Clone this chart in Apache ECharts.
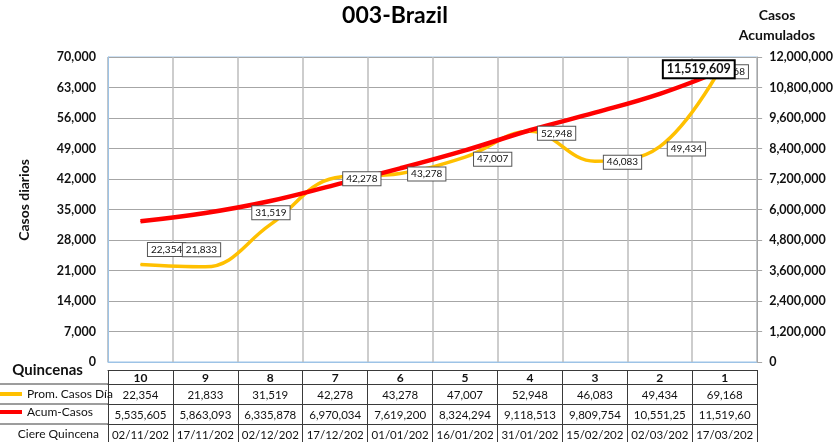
<!DOCTYPE html>
<html>
<head>
<meta charset="utf-8">
<script src="https://cdn.jsdelivr.net/npm/echarts@6/dist/echarts.min.js"></script>
<style>
html,body{margin:0;padding:0;background:#fff;}
#c{width:836px;height:442px;}
</style>
</head>
<body>
<div id="c"></div>
<script>
// ---- data ----
const categories = ['10','9','8','7','6','5','4','3','2','1'];
const promCasos = [22354, 21833, 31519, 42278, 43278, 47007, 52948, 46083, 49434, 69168];
const acumCasos = [5535605, 5863093, 6335878, 6970034, 7619200, 8324294, 9118513, 9809754, 10551250, 11519609];
const cierreQuincena = ['02/11/2020','17/11/2020','02/12/2020','17/12/2020','01/01/2021','16/01/2021','31/01/2021','15/02/2021','02/03/2021','17/03/2021'];
const leftTicks = {min: 0, max: 70000, interval: 7000};
const rightTicks = {min: 0, max: 12000000, interval: 1200000};

// ---- layout / style ----
const FONT = 'Lato, "Noto Sans", sans-serif';
const fmt = v => Number(v).toLocaleString('en-US');
const cut = s => String(s).slice(0, 9);
const G = {left: 108, right: 78, top: 57, bottom: 80};
const plotBottom = 442 - G.bottom;
const headerOff = 8, headerH = 14, rowH = 20;
const tableBorder = '#3a3a3a';

// label offsets for "Prom. Casos Día" (position right)
const promLabelOffsets = [[2,-15],[-28,-17],[-23.5,-12],[2.5,1],[2.5,0.5],[3.5,2],[2.5,2],[3.5,1],[2.5,2.5],[-19.5,11]];

const chart = echarts.init(document.getElementById('c'), null, {renderer: 'canvas'});

function tableAxis(offset, len, labelFn, extra) {
  return Object.assign({
    type: 'category', gridIndex: 0, position: 'bottom', offset: offset,
    data: categories,
    axisLine: {show: true, onZero: false, lineStyle: {color: tableBorder, width: 1}},
    axisTick: {show: true, interval: 0, length: len, lineStyle: {color: tableBorder, width: 1}},
    axisLabel: {show: true, interval: 0, margin: len / 2 + 1, verticalAlign: 'middle',
      fontFamily: FONT, fontSize: 11.5, color: '#111', formatter: labelFn},
    splitLine: {show: false}
  }, extra || {});
}

const yRow1 = plotBottom + headerOff + headerH;
const rowLines = [0,1,2].map(k => ({
  type: 'line', shape: {x1: 0, y1: yRow1 + k * rowH, x2: G.left, y2: yRow1 + k * rowH},
  style: {stroke: tableBorder, lineWidth: 1}
}));

const option = {
  backgroundColor: '#fff',
  animation: false,
  title: [
    {text: '003-Brazil', left: 390, top: -1, textAlign: 'center',
     textStyle: {fontFamily: FONT, fontSize: 23, fontWeight: 'bold', color: '#000'}},
    {text: 'Casos\nAcumulados', left: 772, top: 0, textAlign: 'center',
     textStyle: {fontFamily: FONT, fontSize: 14, fontWeight: 'bold', color: '#111', lineHeight: 20}}
  ],
  legend: {
    orient: 'vertical', left: 0, top: yRow1 + 4, itemGap: 6, padding: 0,
    icon: 'rect', itemWidth: 22, itemHeight: 4, selectedMode: false,
    textStyle: {fontFamily: FONT, fontSize: 12, color: '#111'},
    data: ['Prom. Casos Día', 'Acum-Casos']
  },
  grid: {left: G.left, right: G.right, top: G.top, bottom: G.bottom,
    show: true, borderColor: '#9DC3E6', borderWidth: 1, containLabel: false},
  xAxis: [
    {type: 'category', data: categories, gridIndex: 0, position: 'bottom',
     axisLine: {show: true, onZero: false, lineStyle: {color: '#9DC3E6'}}, axisTick: {show: false}, axisLabel: {show: false},
     splitLine: {show: true, interval: 0, lineStyle: {color: '#bcbcbc', width: 1.5}}},
    tableAxis(headerOff, headerH, v => v, {
      axisLabel: {show: true, interval: 0, margin: headerH / 2 + 1, verticalAlign: 'middle',
        fontFamily: FONT, fontSize: 12, fontWeight: 'bold', color: '#111'},
      name: 'Quincenas', nameLocation: 'start', nameGap: 20,
      nameTextStyle: {fontFamily: FONT, fontSize: 15, fontWeight: 'bold', color: '#111', verticalAlign: 'middle'}
    }),
    tableAxis(headerOff + headerH, rowH, (v, i) => fmt(promCasos[i])),
    tableAxis(headerOff + headerH + rowH, rowH, (v, i) => cut(fmt(acumCasos[i]))),
    tableAxis(headerOff + headerH + 2 * rowH, rowH, (v, i) => cut(cierreQuincena[i]))
  ],
  yAxis: [
    {type: 'value', min: leftTicks.min, max: leftTicks.max, interval: leftTicks.interval,
     axisLine: {show: true, lineStyle: {color: '#9DC3E6'}}, axisTick: {show: false},
     axisLabel: {margin: 12, fontFamily: FONT, fontSize: 12.5, fontWeight: 'bold', color: '#111', formatter: fmt},
     splitLine: {show: true, lineStyle: {color: '#a6a6a6', width: 1}}},
    {type: 'value', min: rightTicks.min, max: rightTicks.max, interval: rightTicks.interval, position: 'right',
     axisLine: {show: true, lineStyle: {color: '#a6a6a6'}},
     axisTick: {show: true, length: 5, lineStyle: {color: '#a6a6a6'}},
     axisLabel: {margin: 12, fontFamily: FONT, fontSize: 12.5, fontWeight: 'bold', color: '#111', formatter: fmt},
     splitLine: {show: false}}
  ],
  graphic: [
    {type: 'text', x: 24, y: 200, rotation: Math.PI / 2,
     style: {text: 'Casos diarios', font: 'bold 14px ' + FONT, fill: '#111', align: 'center', verticalAlign: 'middle'}},
    {type: 'text', x: G.left - 9, y: yRow1 + 2.5 * rowH,
     style: {text: 'Ciere Quincena', font: '12px ' + FONT, fill: '#111', align: 'right', verticalAlign: 'middle'}}
  ].concat(rowLines),
  series: [
    {name: 'Prom. Casos Día', type: 'line', xAxisIndex: 0, yAxisIndex: 0, smooth: 0.4,
     symbol: 'circle', symbolSize: 1, itemStyle: {color: '#FFC000'},
     lineStyle: {color: '#FFC000', width: 3.5},
     data: promCasos.map((v, i) => ({value: v, label: {offset: promLabelOffsets[i]}})),
     label: {show: true, position: 'right', distance: 5, formatter: p => fmt(p.value),
       fontFamily: FONT, fontSize: 10, color: '#111', backgroundColor: '#fff',
       borderColor: '#555', borderWidth: 1, padding: [2, 3, 1, 3]},
     z: 2},
    {name: 'Acum-Casos', type: 'line', xAxisIndex: 0, yAxisIndex: 1, smooth: 0.4,
     symbol: 'circle', symbolSize: 1, itemStyle: {color: '#FF0000'},
     lineStyle: {color: '#FF0000', width: 4.5},
     data: acumCasos.map((v, i) => ({value: v,
       label: i === acumCasos.length - 1 ? {show: true, position: 'left', distance: 5, offset: [14.5, 0],
         formatter: p => fmt(p.value), fontFamily: FONT, fontSize: 12.5, fontWeight: 'bold', color: '#111',
         backgroundColor: '#fff', borderColor: '#000', borderWidth: 2, padding: [2, 3, 1, 3]} : {show: false}})),
     z: 2}
  ]
};
chart.setOption(option);
</script>
</body>
</html>
